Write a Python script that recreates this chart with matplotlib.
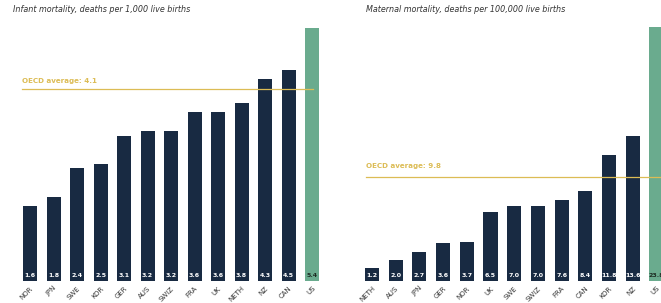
import matplotlib.pyplot as plt

# infant mortality, deaths per 1,000 live births
inf_countries = ['NOR', 'JPN', 'SWE', 'KOR', 'GER', 'AUS', 'SWIZ', 'FRA', 'UK', 'NETH', 'NZ', 'CAN', 'US']
inf_values = [1.6, 1.8, 2.4, 2.5, 3.1, 3.2, 3.2, 3.6, 3.6, 3.8, 4.3, 4.5, 5.4]
inf_avg = 4.1

# maternal mortality, deaths per 100,000 live births
mat_countries = ['NETH', 'AUS', 'JPN', 'GER', 'NOR', 'UK', 'SWE', 'SWIZ', 'FRA', 'CAN', 'KOR', 'NZ', 'US']
mat_values = [1.2, 2.0, 2.7, 3.6, 3.7, 6.5, 7.0, 7.0, 7.6, 8.4, 11.8, 13.6, 23.8]
mat_avg = 9.8

navy = '#182a42'
green = '#6aab8e'
gold = '#dcbc55'

W, H = 661, 303
fig = plt.figure(figsize=(W / 100, H / 100), dpi=100)


def px_axes(x0, x1, y_top, y_bot):
    return fig.add_axes([x0 / W, (H - y_bot) / H, (x1 - x0) / W, (y_bot - y_top) / H])


def draw(ax, countries, values, avg, ylim, xlim, label, line_x0, line_x1, text_y):
    colors = [navy] * (len(values) - 1) + [green]
    x = range(len(values))
    ax.bar(x, values, width=0.6, color=colors, zorder=2)
    ax.set_xlim(*xlim)
    ax.set_ylim(0, ylim)
    ax.axhline(0, color='#cccccc', lw=0.6, zorder=1)
    for i, v in enumerate(values):
        c = 'white' if i < len(values) - 1 else '#1d2b22'
        ax.text(i, ylim * 0.022, '%.1f' % v, ha='center', va='center',
                fontsize=4.5, color=c, fontweight='bold', zorder=3)
    ax.plot([line_x0, line_x1], [avg, avg], color=gold, lw=0.9, zorder=3)
    ax.text(line_x0, text_y, label, color=gold, fontsize=5.1,
            fontweight='bold', ha='left', va='center')
    ax.set_xticks(list(x))
    ax.set_xticklabels(countries, rotation=45, ha='right', rotation_mode='anchor',
                       fontsize=5.0, color='#333333')
    ax.tick_params(length=0, pad=3)
    ax.set_yticks([])
    for s in ax.spines.values():
        s.set_visible(False)
    ax.patch.set_alpha(0)


ax1 = px_axes(20, 325, 25, 281)
draw(ax1, inf_countries, inf_values, inf_avg, 256 / 46.9, (-0.43, 12.55),
     'OECD average: 4.1', -0.34, 12.05, 4.27)

ax2 = px_axes(362, 661, 25, 281)
draw(ax2, mat_countries, mat_values, mat_avg, 256 / 10.66, (-0.42, 12.19),
     'OECD average: 9.8', -0.25, 12.19, 10.75)

fig.text(13 / W, 1 - 10 / H, 'Infant mortality, deaths per 1,000 live births',
         fontsize=5.8, style='italic', color='#333333', va='center', ha='left')
fig.text(366 / W, 1 - 10 / H, 'Maternal mortality, deaths per 100,000 live births',
         fontsize=5.8, style='italic', color='#333333', va='center', ha='left')

fig.savefig('out.png', dpi=100)
